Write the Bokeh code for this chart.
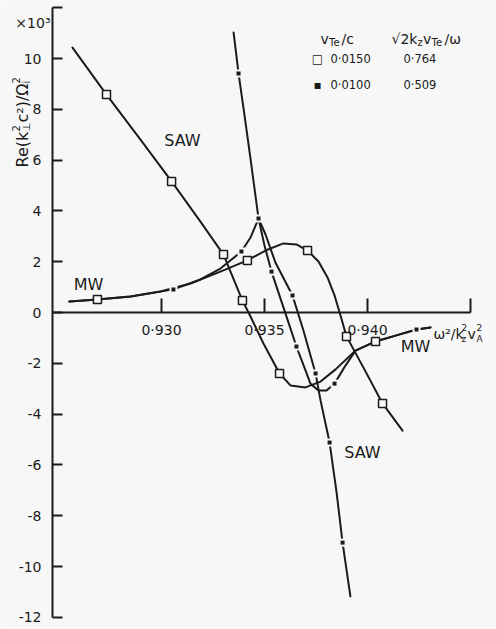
import math
from bokeh.plotting import figure
from bokeh.models import Range1d, FixedTicker, Label
from bokeh.embed import file_html
from bokeh.resources import INLINE

# Re(k_perp^2 c^2 / Omega_i^2) in units of 10^3 versus omega^2 / (k_z^2 v_A^2)

# v_Te/c = 0.0150 : SAW from the upper left, going over into the MW branch at the right
sq_saw_x = [0.92568, 0.92733, 0.92898, 0.93049, 0.93189, 0.93301, 0.93393, 0.93432,
            0.93495, 0.93573, 0.93626, 0.93699, 0.93772, 0.93845, 0.93942, 0.94039,
            0.94136, 0.94238, 0.94306]
sq_saw_y = [10.43, 8.58, 6.81, 5.16, 3.58, 2.28, 0.47, -0.16,
            -1.22, -2.40, -2.87, -2.95, -2.72, -2.24, -1.50, -1.14,
            -0.91, -0.67, -0.59]

# v_Te/c = 0.0150 : MW from the left, going over into the SAW branch at the lower right
sq_mw_x = [0.92553, 0.92689, 0.92850, 0.92995, 0.93141, 0.93286, 0.93417, 0.93505,
           0.93592, 0.93655, 0.93709, 0.93762, 0.93806, 0.93840, 0.93869, 0.93898,
           0.93985, 0.94073, 0.94170]
sq_mw_y = [0.43, 0.51, 0.63, 0.83, 1.14, 1.61, 2.05, 2.44,
           2.72, 2.68, 2.44, 2.01, 1.38, 0.67, -0.12, -0.94,
           -2.24, -3.58, -4.65]

# v_Te/c = 0.0100 : MW from the left up to the peak, then the steep SAW branch
dot_mw_x = [0.92553, 0.92689, 0.92850, 0.93058, 0.93189, 0.93286, 0.93388, 0.93432,
            0.93471, 0.93505, 0.93553, 0.93636, 0.93689, 0.93748, 0.93772, 0.93816,
            0.93850, 0.93879, 0.93917]
dot_mw_y = [0.43, 0.51, 0.63, 0.91, 1.30, 1.73, 2.40, 2.95,
            3.70, 3.07, 1.97, 0.67, -0.71, -2.40, -3.46, -5.12,
            -7.09, -9.06, -11.18]

# v_Te/c = 0.0100 : SAW from the top, through the peak and the minimum, then MW
dot_saw_x = [0.93350, 0.93374, 0.93403, 0.93432, 0.93471, 0.93500, 0.93534, 0.93592,
             0.93655, 0.93694, 0.93723, 0.93762, 0.93801, 0.93840, 0.93893, 0.93942,
             0.94039, 0.94136, 0.94238, 0.94306]
dot_saw_y = [11.02, 9.41, 7.76, 6.06, 3.70, 2.64, 1.61, 0.20,
             -1.34, -2.17, -2.80, -3.07, -3.07, -2.80, -2.09, -1.50,
             -1.14, -0.91, -0.67, -0.59]

# computed points
sq_pts_x = [0.92733, 0.93049, 0.93301, 0.93393, 0.93573, 0.94039,
            0.92689, 0.93417, 0.93709, 0.93898, 0.94073]
sq_pts_y = [8.58, 5.16, 2.28, 0.47, -2.40, -1.14,
            0.51, 2.05, 2.44, -0.94, -3.58]
dot_pts_x = [0.93374, 0.93534, 0.93655, 0.93840, 0.94238,
             0.93058, 0.93388, 0.93471, 0.93636, 0.93748, 0.93816, 0.93879]
dot_pts_y = [9.41, 1.61, -1.34, -2.80, -0.67,
             0.91, 2.40, 3.70, 0.67, -2.40, -5.12, -9.06]

# axes
x_ticks = [0.930, 0.935, 0.940, 0.945]
x_tick_labels = ["0·930", "0·935", "0·940", ""]
x_axis_span = (0.92471, 0.945)
y_ticks = list(range(-12, 13, 2))
y_tick_labels = [str(v) for v in y_ticks[:-1]] + [""]
y_axis_span = (-12, 12)

# parameter table
vte_c = ["0·0150", "0·0100"]
kz_vte_w = ["0·764", "0·509"]
row_symbols = ["□", "▪"]

BG = "#f7f7f7"
INK = "#1b1b1b"
FONT = "DejaVu Sans"

W, H = 496, 629
# scale: 0.005 in x per 103 px, 1 unit in y per 25.4 px; x = 0.930 at px 161, y = 0 at px 312
PX_PER_X = 103 / 0.005
PX_PER_Y = 25.4


def px_x(px):
    return 0.930 + (px - 161) / PX_PER_X


def px_y(py):
    return (312 - py) / PX_PER_Y


# the data area fills the whole canvas; both axes sit at fixed positions inside it
p = figure(width=W, height=H,
           x_range=Range1d(px_x(0), px_x(W)), y_range=Range1d(px_y(H), px_y(0)),
           output_backend="svg", toolbar_location=None, min_border=0,
           background_fill_color=BG, border_fill_color=BG)
p.outline_line_color = None
p.grid.visible = False

xa = p.xaxis[0]
xa.fixed_location = 0
xa.bounds = x_axis_span
xa.ticker = FixedTicker(ticks=x_ticks)
xa.major_label_overrides = dict(zip(x_ticks, x_tick_labels))
xa.minor_tick_line_color = None
xa.major_tick_in = 14
xa.major_tick_out = 0
xa.major_label_standoff = 9

ya = p.yaxis[0]
ya.fixed_location = x_axis_span[0]
ya.bounds = y_axis_span
ya.ticker = FixedTicker(ticks=y_ticks)
ya.major_label_overrides = dict(zip(y_ticks, y_tick_labels))
ya.minor_tick_line_color = None
ya.major_tick_in = 10
ya.major_tick_out = 0
ya.major_label_standoff = 11

for ax in (xa, ya):
    ax.axis_line_width = 2
    ax.major_tick_line_width = 2
    ax.axis_line_color = INK
    ax.major_tick_line_color = INK
    ax.major_label_text_font = FONT
    ax.major_label_text_font_size = "14px"
    ax.major_label_text_color = INK

# curves
for xs, ys in [(sq_saw_x, sq_saw_y), (sq_mw_x, sq_mw_y),
               (dot_mw_x, dot_mw_y), (dot_saw_x, dot_saw_y)]:
    p.line(xs, ys, line_color=INK, line_width=2, line_join="round", line_cap="round")

# small gaps in the line around the filled points, then the points
p.scatter(dot_pts_x, dot_pts_y, marker="square", size=8, fill_color=BG, line_color=None)
p.scatter(dot_pts_x, dot_pts_y, marker="square", size=4, fill_color=INK, line_color=None)
# open squares
p.scatter(sq_pts_x, sq_pts_y, marker="square", size=8, fill_color=BG,
          line_color=INK, line_width=1.5)


def put(text, px, py, size, align="left", baseline="alphabetic", angle=0.0):
    p.add_layout(Label(x=px_x(px), y=px_y(py), text=text, text_font=FONT,
                       text_font_size=size, text_color=INK, text_align=align,
                       text_baseline=baseline, angle=angle))


# branch names
put("SAW", 182, 140, "16px", "center", "middle")
put("MW", 88, 284, "16px", "center", "middle")
put("MW", 415, 346, "16px", "center", "middle")
put("SAW", 362, 452, "16px", "center", "middle")

# x quantity: omega^2 / k_z^2 v_A^2
put("ω²/k", 433, 333, "14px")
put("2", 461, 327, "9px")
put("z", 461, 338, "9px")
put("v", 467, 333, "14px")
put("2", 476, 327, "9px")
put("A", 476, 338, "9px")

# y quantity, rotated: Re(k_perp^2 c^2)/Omega_i^2
up = math.pi / 2
put("Re(k", 22, 167, "16px", angle=up)
put("2", 15, 131, "10px", angle=up)
put("⊥", 26, 131, "10px", angle=up)
put("c²)/Ω", 22, 122, "16px", angle=up)
put("2", 15, 83, "10px", angle=up)
put("i", 26, 83, "10px", angle=up)
put("×10³", 50, 22, "14px", "right", "middle")

# parameter table
put("v", 320, 38, "14px")
put("Te", 328.5, 42, "10px")
put("/c", 341, 38, "14px")
put("√2k", 391, 38, "14px")
put("z", 417, 42, "10px")
put("v", 422.5, 38, "14px")
put("Te", 431, 42, "10px")
put("/ω", 444, 38, "14px")
for i, (sym, a, b) in enumerate(zip(row_symbols, vte_c, kz_vte_w)):
    row_py = 58 + 26 * i
    put(sym, 317, row_py, "12px", "center", "middle")
    put(a, 330, row_py, "11.5px", "left", "middle")
    put(b, 403, row_py, "11.5px", "left", "middle")

open("out.html", "w").write(file_html(p, INLINE))
